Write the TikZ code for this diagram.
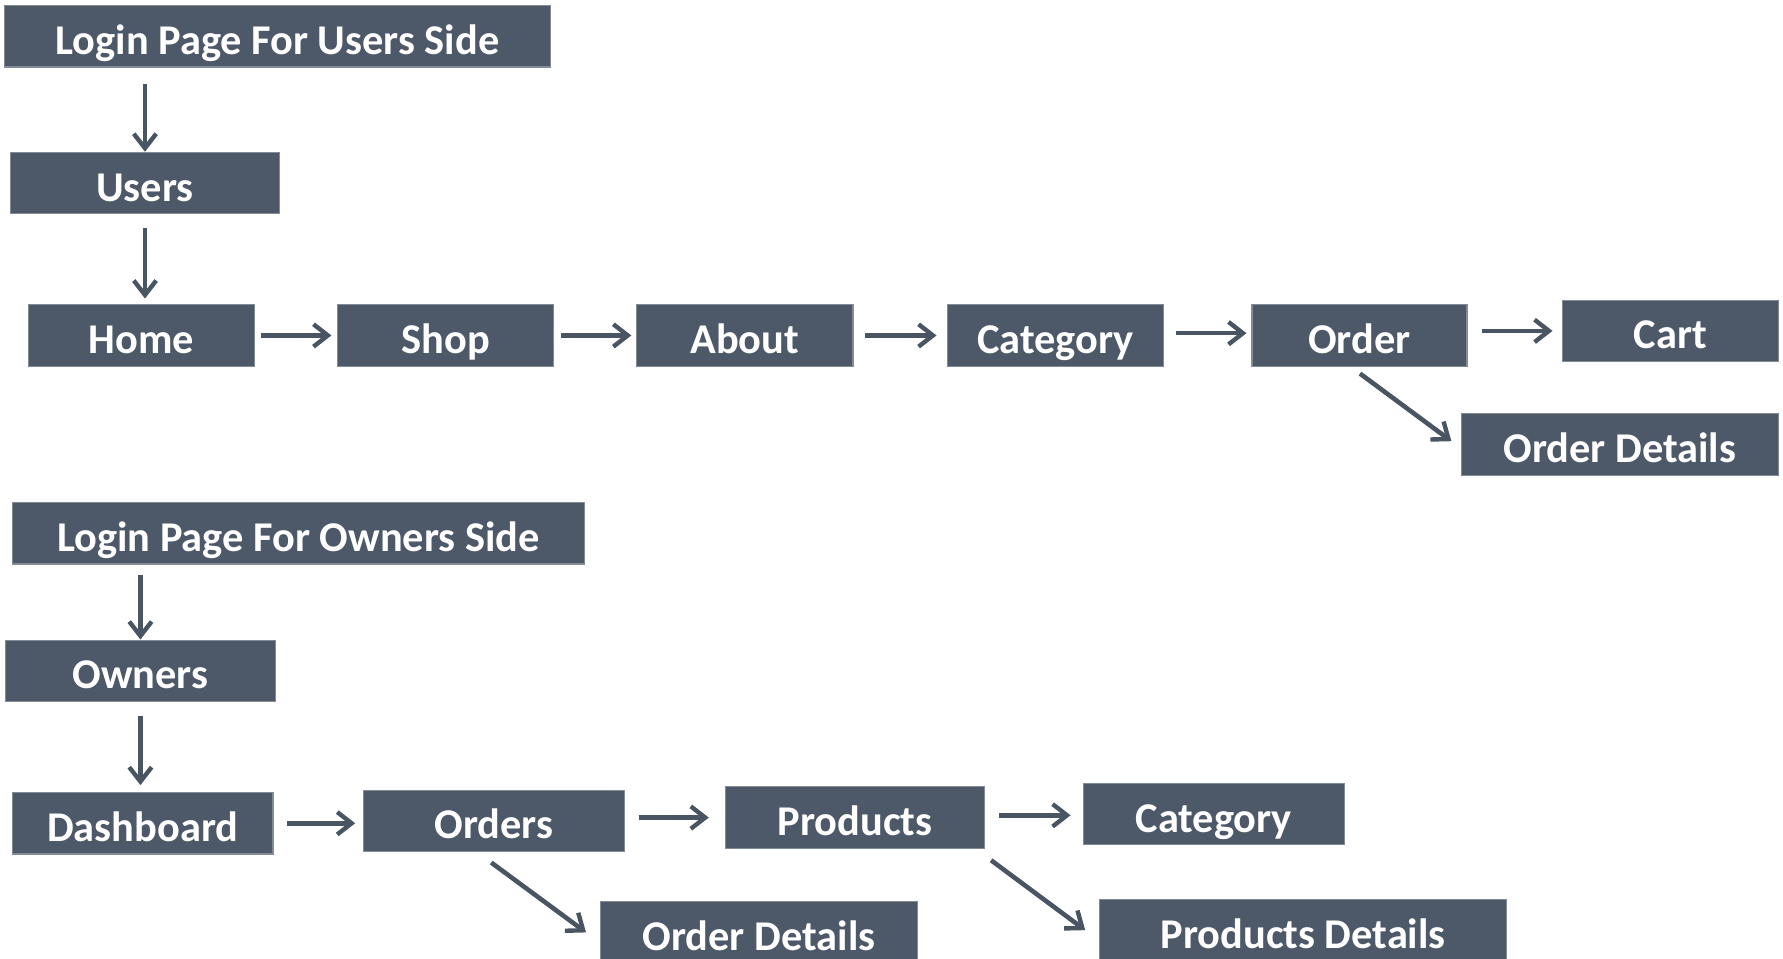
\documentclass[tikz,border=0pt]{standalone}
\usepackage{fontspec}
\setmainfont{Carlito}
\usetikzlibrary{arrows.meta,calc}
\definecolor{boxc}{RGB}{77,89,105}
\definecolor{arrc}{RGB}{74,85,100}
\tikzset{
  box/.style={fill=boxc, draw=boxc!70!white, line width=0.3pt, inner sep=0pt, minimum height=0.54cm,
    text=white, font=\fontsize{10.6pt}{12pt}\selectfont\bfseries, text height=0.9em, text depth=0em},
  arr/.style={draw=arrc, line width=1.15pt, -{Straight Barb[length=3.6pt,width=5.6pt,line width=1.1pt]}},
}
\begin{document}
\begin{tikzpicture}[x=0.01cm,y=-0.01cm]
\useasboundingbox (0,0) rectangle (1568,843);
% users side
\node[box, minimum width=4.80cm] (lu) at (244,32) {Login Page For Users Side};
\node[box, minimum width=2.37cm] (us) at (127.5,161) {Users};
\node[box, minimum width=1.99cm] (ho) at (124.5,295) {Home};
\node[box, minimum width=1.90cm] (sh) at (392,295) {Shop};
\node[box, minimum width=1.90cm] (ab) at (655,295) {About};
\node[box, minimum width=1.90cm] (ca) at (928,295) {Category};
\node[box, minimum width=1.89cm] (or) at (1195.5,295) {Order};
\node[box, minimum width=1.90cm] (ct) at (1469,291) {Cart};
\node[box, minimum width=2.79cm] (od) at (1424.5,391) {Order Details};
% owners side
\node[box, minimum width=5.03cm] (lo) at (262.5,469) {Login Page For Owners Side};
\node[box, minimum width=2.37cm] (ow) at (123.5,590) {Owners};
\node[box, minimum width=2.29cm] (da) at (125.5,724) {Dashboard};
\node[box, minimum width=2.29cm] (os) at (434.5,722) {Orders};
\node[box, minimum width=2.28cm] (pr) at (752,719) {Products};
\node[box, minimum width=2.29cm] (c2) at (1067.5,716) {Category};
\node[box, minimum width=2.79cm] (o2) at (667.5,820) {Order Details};
\node[box, minimum width=3.58cm] (pd) at (1146,818) {Products Details};
% arrows users
\draw[arr, shorten <=4pt] (lu.south -| us.north) -- (us.north);
\draw[arr, shorten <=3.5pt, shorten >=1.4pt] (us.south) -- (us.south |- ho.north);
\draw[arr, shorten <=1.4pt, shorten >=1.4pt] (ho) -- (sh);
\draw[arr, shorten <=1.7pt, shorten >=1.2pt] (sh) -- (ab);
\draw[arr, shorten <=3pt, shorten >=2.5pt] (ab) -- (ca);
\draw[arr, shorten <=3pt, shorten >=1.2pt] ($(ca.east)+(0,-2)$) -- ($(or.west)+(0,-2)$);
\draw[arr, shorten <=3.5pt, shorten >=2.3pt] (or.east |- ct.west) -- (ct.west);
\draw[arr] ($(or.south)+(0.5,6)$) -- ($(od.west)+(-8,-3)$);
% arrows owners
\draw[arr, shorten <=2.5pt] (lo.south -| ow.north) -- (ow.north);
\draw[arr, shorten <=3.4pt, shorten >=1.7pt] (ow.south) -- (ow.south |- da.north);
\draw[arr, shorten <=3.4pt, shorten >=2pt] (da) -- (da -| os.west);
\draw[arr, shorten <=3.4pt, shorten >=4pt] (os.east |- pr.west) -- (pr.west);
\draw[arr, shorten <=3.4pt, shorten >=3.1pt] ($(pr.east)+(0,-2)$) -- ($(c2.west)+(0,1)$);
\draw[arr] ($(os.south)+(-2.5,9)$) -- ($(o2.west)+(-12,0)$);
\draw[arr] ($(pr.south east)+(5,10)$) -- ($(pd.west)+(-12,0)$);
\end{tikzpicture}
\end{document}
